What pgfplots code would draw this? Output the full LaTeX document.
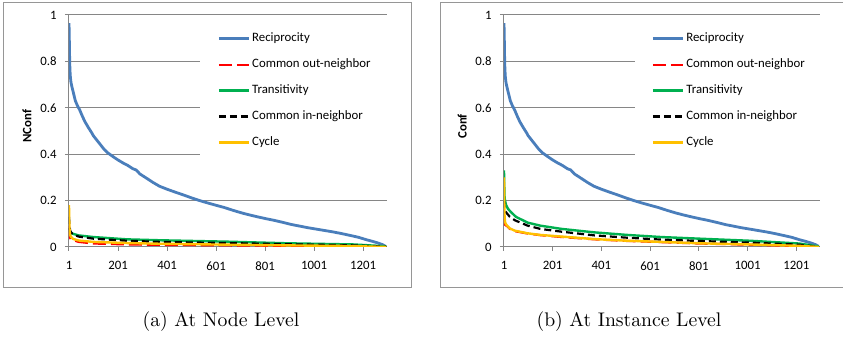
\documentclass[border=0pt]{standalone}
\usepackage{fontspec}
\usepackage{pgfplots}
\pgfplotsset{compat=1.18}
\newfontfamily\calibri{Carlito}
\definecolor{xlgray}{RGB}{134,134,134}
\definecolor{xlframe}{RGB}{150,150,150}
\definecolor{xlblue}{RGB}{74,126,187}
\definecolor{xlgreen}{RGB}{0,176,80}
\definecolor{xlorange}{RGB}{255,192,0}
\definecolor{xlred}{RGB}{255,0,0}
\pgfplotsset{
  xlstyle/.style={
    scale only axis, height=116pt,
    xmin=1, xmax=1298, ymin=0, ymax=1,
    axis lines=left, axis line style={xlgray, line width=0.5pt, -},
    xtick={1,201,401,601,801,1001,1201},
    xticklabels={1,201,401,601,801,1001,1201},
    ytick={0,0.2,0.4,0.6,0.8,1},
    yticklabels={0,0.2,0.4,0.6,0.8,1},
    tick align=outside, major tick length=2pt,
    tick style={xlgray, line width=0.5pt},
    ymajorgrids, grid style={xlgray, line width=0.5pt},
    /pgf/number format/assume math mode=true,
    ticklabel style={font=\calibri\fontsize{6.4}{7}\selectfont, text=black},
    yticklabel style={inner xsep=0pt, xshift=-4pt},
    xticklabel style={inner ysep=0pt, yshift=-5pt},
    ylabel style={at={(rel axis cs:-0.132,0.52)}, anchor=center,
      font=\calibri\bfseries\fontsize{6.4}{7}\selectfont},
    legend cell align=left,
    legend style={at={(rel axis cs:0.412,0.955)}, anchor=north west,
      draw=none, fill=white, inner xsep=8.5pt, inner ysep=3.5pt,
      font=\calibri\fontsize{6.4}{7}\selectfont,
      nodes={inner sep=0pt, text height=4.5pt, text depth=1.5pt},
      row sep=6.95pt, column sep=1pt},
    legend image code/.code={\draw[#1] (0pt,0pt) -- (15pt,0pt);},
    every axis plot/.append style={mark=none, line join=round},
  },
  recip/.style={xlblue, line width=1.4pt},
  cout/.style={xlred, line width=1.1pt, dash pattern=on 6.5pt off 2.5pt},
  trans/.style={xlgreen, line width=1.2pt},
  cin/.style={black, line width=1.1pt, dash pattern=on 3.5pt off 2pt},
  cyc/.style={xlorange, line width=1.2pt},
}
\begin{document}
\begin{tikzpicture}
\useasboundingbox (0,0) rectangle (421.5pt,-175.5pt);
\clip (0,0) rectangle (421.5pt,-175.5pt);
\draw[xlframe, line width=0.5pt] (1.5pt,-1.5pt) rectangle (205.5pt,-144pt);
\draw[xlframe, line width=0.5pt] (220pt,-1.5pt) rectangle (440pt,-144pt);

% ---------------- (a) Node level ----------------
\begin{axis}[xlstyle, width=159pt, at={(34.5pt,-123.5pt)}, anchor=south west, ylabel={NConf}]
\addplot[recip] coordinates {(1,0.965)(2,0.92)(3,0.85)(4,0.79)(6,0.74)(9,0.71)(13,0.69)(20,0.66)(27,0.63)(35,0.61)(45,0.59)(55,0.565)(66,0.54)(80,0.515)(95,0.49)(100,0.48)(115,0.46)(130,0.44)(145,0.42)(160,0.405)(180,0.39)(201,0.375)(220,0.363)(240,0.352)(262,0.337)(275,0.332)(290,0.315)(315,0.298)(344,0.278)(370,0.262)(401,0.249)(430,0.238)(466,0.225)(500,0.212)(534,0.2)(566,0.19)(600,0.18)(635,0.17)(670,0.158)(705,0.147)(738,0.138)(770,0.13)(800,0.123)(837,0.115)(874,0.106)(908,0.097)(942,0.09)(976,0.083)(1010,0.077)(1044,0.071)(1078,0.065)(1112,0.058)(1147,0.05)(1181,0.042)(1215,0.031)(1240,0.024)(1262,0.017)(1280,0.01)(1292,0.003)};
\addlegendentry{Reciprocity}
\addplot[cout] coordinates {(1,0.09)(3,0.05)(6,0.038)(10,0.033)(17,0.03)(40,0.022)(99,0.015)(237,0.011)(372,0.009)(645,0.007)(890,0.005)(1160,0.003)(1295,0)};
\addlegendentry{Common out-neighbor}
\addplot[trans] coordinates {(1,0.08)(3,0.07)(6,0.065)(10,0.062)(17,0.057)(40,0.05)(99,0.043)(237,0.033)(372,0.029)(645,0.023)(890,0.016)(1160,0.011)(1295,0.003)};
\addlegendentry{Transitivity}
\addplot[cin] coordinates {(1,0.13)(3,0.09)(6,0.07)(10,0.062)(17,0.055)(40,0.045)(99,0.036)(237,0.027)(372,0.022)(645,0.017)(890,0.012)(1160,0.007)(1295,0.001)};
\addlegendentry{Common in-neighbor}
\addplot[cyc] coordinates {(1,0.18)(2,0.12)(3,0.08)(5,0.055)(8,0.045)(17,0.035)(40,0.028)(99,0.022)(237,0.017)(372,0.014)(645,0.01)(890,0.007)(1160,0.004)(1295,0)};
\addlegendentry{Cycle}
\end{axis}

% ---------------- (b) Instance level ----------------
\begin{axis}[xlstyle, width=158pt, at={(252pt,-123.5pt)}, anchor=south west, ylabel={Conf}]
\addplot[recip] coordinates {(1,0.965)(2,0.92)(3,0.85)(4,0.79)(6,0.74)(9,0.71)(13,0.69)(20,0.66)(27,0.63)(35,0.61)(45,0.59)(55,0.565)(66,0.54)(80,0.515)(95,0.49)(100,0.48)(115,0.46)(130,0.44)(145,0.42)(160,0.405)(180,0.39)(201,0.375)(220,0.363)(240,0.352)(262,0.337)(275,0.332)(290,0.315)(315,0.298)(344,0.278)(370,0.262)(401,0.249)(430,0.238)(466,0.225)(500,0.212)(534,0.2)(566,0.19)(600,0.18)(635,0.17)(670,0.158)(705,0.147)(738,0.138)(770,0.13)(800,0.123)(837,0.115)(874,0.106)(908,0.097)(942,0.09)(976,0.083)(1010,0.077)(1044,0.071)(1078,0.065)(1112,0.058)(1147,0.05)(1181,0.042)(1215,0.031)(1240,0.024)(1262,0.017)(1280,0.01)(1292,0.003)};
\addlegendentry{Reciprocity}
\addplot[cout] coordinates {(1,0.12)(3,0.1)(6,0.095)(13,0.09)(25,0.078)(46,0.068)(98,0.058)(150,0.051)(237,0.043)(372,0.033)(507,0.026)(645,0.021)(800,0.015)(1008,0.01)(1212,0.004)(1294,0)};
\addlegendentry{Common out-neighbor}
\addplot[trans] coordinates {(1,0.33)(2,0.27)(3,0.22)(5,0.2)(10,0.18)(17,0.165)(30,0.15)(50,0.13)(98,0.105)(150,0.092)(237,0.078)(372,0.063)(507,0.052)(645,0.043)(800,0.036)(1008,0.027)(1212,0.015)(1294,0.002)};
\addlegendentry{Transitivity}
\addplot[cin] coordinates {(1,0.2)(3,0.17)(6,0.155)(13,0.145)(25,0.13)(46,0.115)(98,0.092)(150,0.078)(237,0.066)(372,0.05)(507,0.04)(645,0.032)(800,0.026)(1008,0.019)(1212,0.01)(1294,0)};
\addlegendentry{Common in-neighbor}
\addplot[cyc] coordinates {(1,0.3)(2,0.2)(3,0.14)(5,0.11)(8,0.1)(13,0.093)(25,0.08)(46,0.07)(98,0.059)(150,0.052)(237,0.045)(372,0.034)(507,0.027)(645,0.022)(800,0.016)(1008,0.011)(1212,0.005)(1294,0)};
\addlegendentry{Cycle}
\end{axis}

\node[font=\fontsize{9.85}{12}\selectfont] at (110.5pt,-161pt) {(a) At Node Level};
\node[font=\fontsize{9.85}{12}\selectfont] at (314.5pt,-161pt) {(b) At Instance Level};
\end{tikzpicture}
\end{document}
